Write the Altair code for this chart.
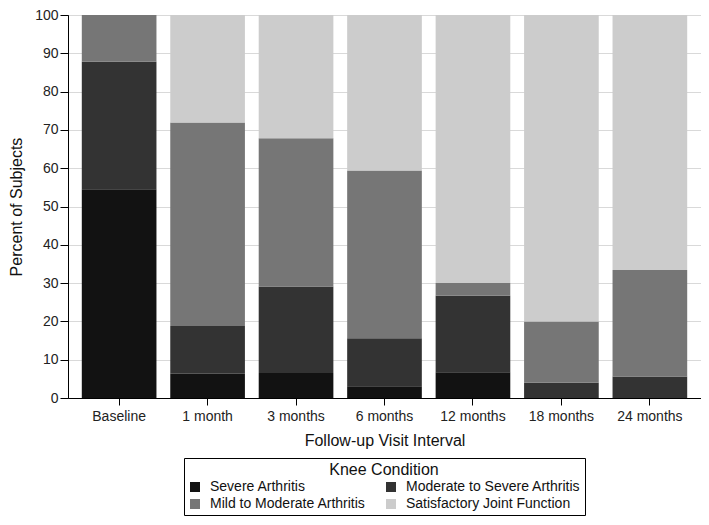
import altair as alt
import pandas as pd

visits = ["Baseline", "1 month", "3 months", "6 months", "12 months", "18 months", "24 months"]
conditions = ["Severe Arthritis", "Moderate to Severe Arthritis",
              "Mild to Moderate Arthritis", "Satisfactory Joint Function"]
severe = [54.5, 6.3, 6.5, 3.1, 6.7, 0.0, 0.0]
mod_severe = [33.3, 12.5, 22.6, 12.5, 20.0, 4.0, 5.6]
mild_mod = [12.2, 53.1, 38.7, 43.8, 3.3, 16.0, 27.8]
satisfactory = [0.0, 28.1, 32.2, 40.6, 70.0, 80.0, 66.6]
colors = ["#121212", "#333333", "#767676", "#cccccc"]

series = [severe, mod_severe, mild_mod, satisfactory]
rows = []
for k, (cond, vals) in enumerate(zip(conditions, series)):
    for v, val in zip(visits, vals):
        rows.append({"visit": v, "condition": cond, "percent": val, "rank": k})
df = pd.DataFrame(rows)

chart = alt.Chart(df).mark_bar().encode(
    x=alt.X("visit:N", sort=visits,
            scale=alt.Scale(paddingInner=0.156, paddingOuter=0.156),
            axis=alt.Axis(title="Follow-up Visit Interval", labelAngle=0, tickSize=7,
                          labelPadding=4, titlePadding=9, grid=False)),
    y=alt.Y("percent:Q", stack="zero",
            scale=alt.Scale(domain=[0, 100], nice=False),
            axis=alt.Axis(title="Percent of Subjects", values=list(range(0, 101, 10)),
                          tickSize=8, labelPadding=2, titlePadding=10,
                          grid=True, gridColor="#d9d9d9", gridWidth=1)),
    color=alt.Color("condition:N", sort=conditions,
                    scale=alt.Scale(domain=conditions, range=colors),
                    legend=alt.Legend(title="Knee Condition", orient="none",
                                      direction="horizontal",
                                      legendX=116, legendY=443, columns=2,
                                      titleAnchor="middle", titleFontSize=16,
                                      titleFontWeight="normal", titleColor="#111",
                                      titlePadding=2, labelFontSize=14, labelColor="#111",
                                      symbolType="square", symbolSize=100,
                                      symbolStrokeWidth=0, strokeColor="black",
                                      padding=4, rowPadding=3, columnPadding=18,
                                      labelOffset=8, labelLimit=300)),
    order=alt.Order("rank:Q", sort="ascending"),
).properties(
    width=633, height=383,
    padding={"left": 0, "top": 0, "right": 0, "bottom": 0},
).configure(
    font="Liberation Sans",
).configure_view(
    stroke="black", strokeWidth=1,
).configure_axis(
    domainColor="black", tickColor="black", labelColor="#222", titleColor="#111",
    labelFontSize=14, titleFontSize=16, titleFontWeight="normal",
)

chart.save("out.html", embed_options={"renderer": "svg", "actions": False})
